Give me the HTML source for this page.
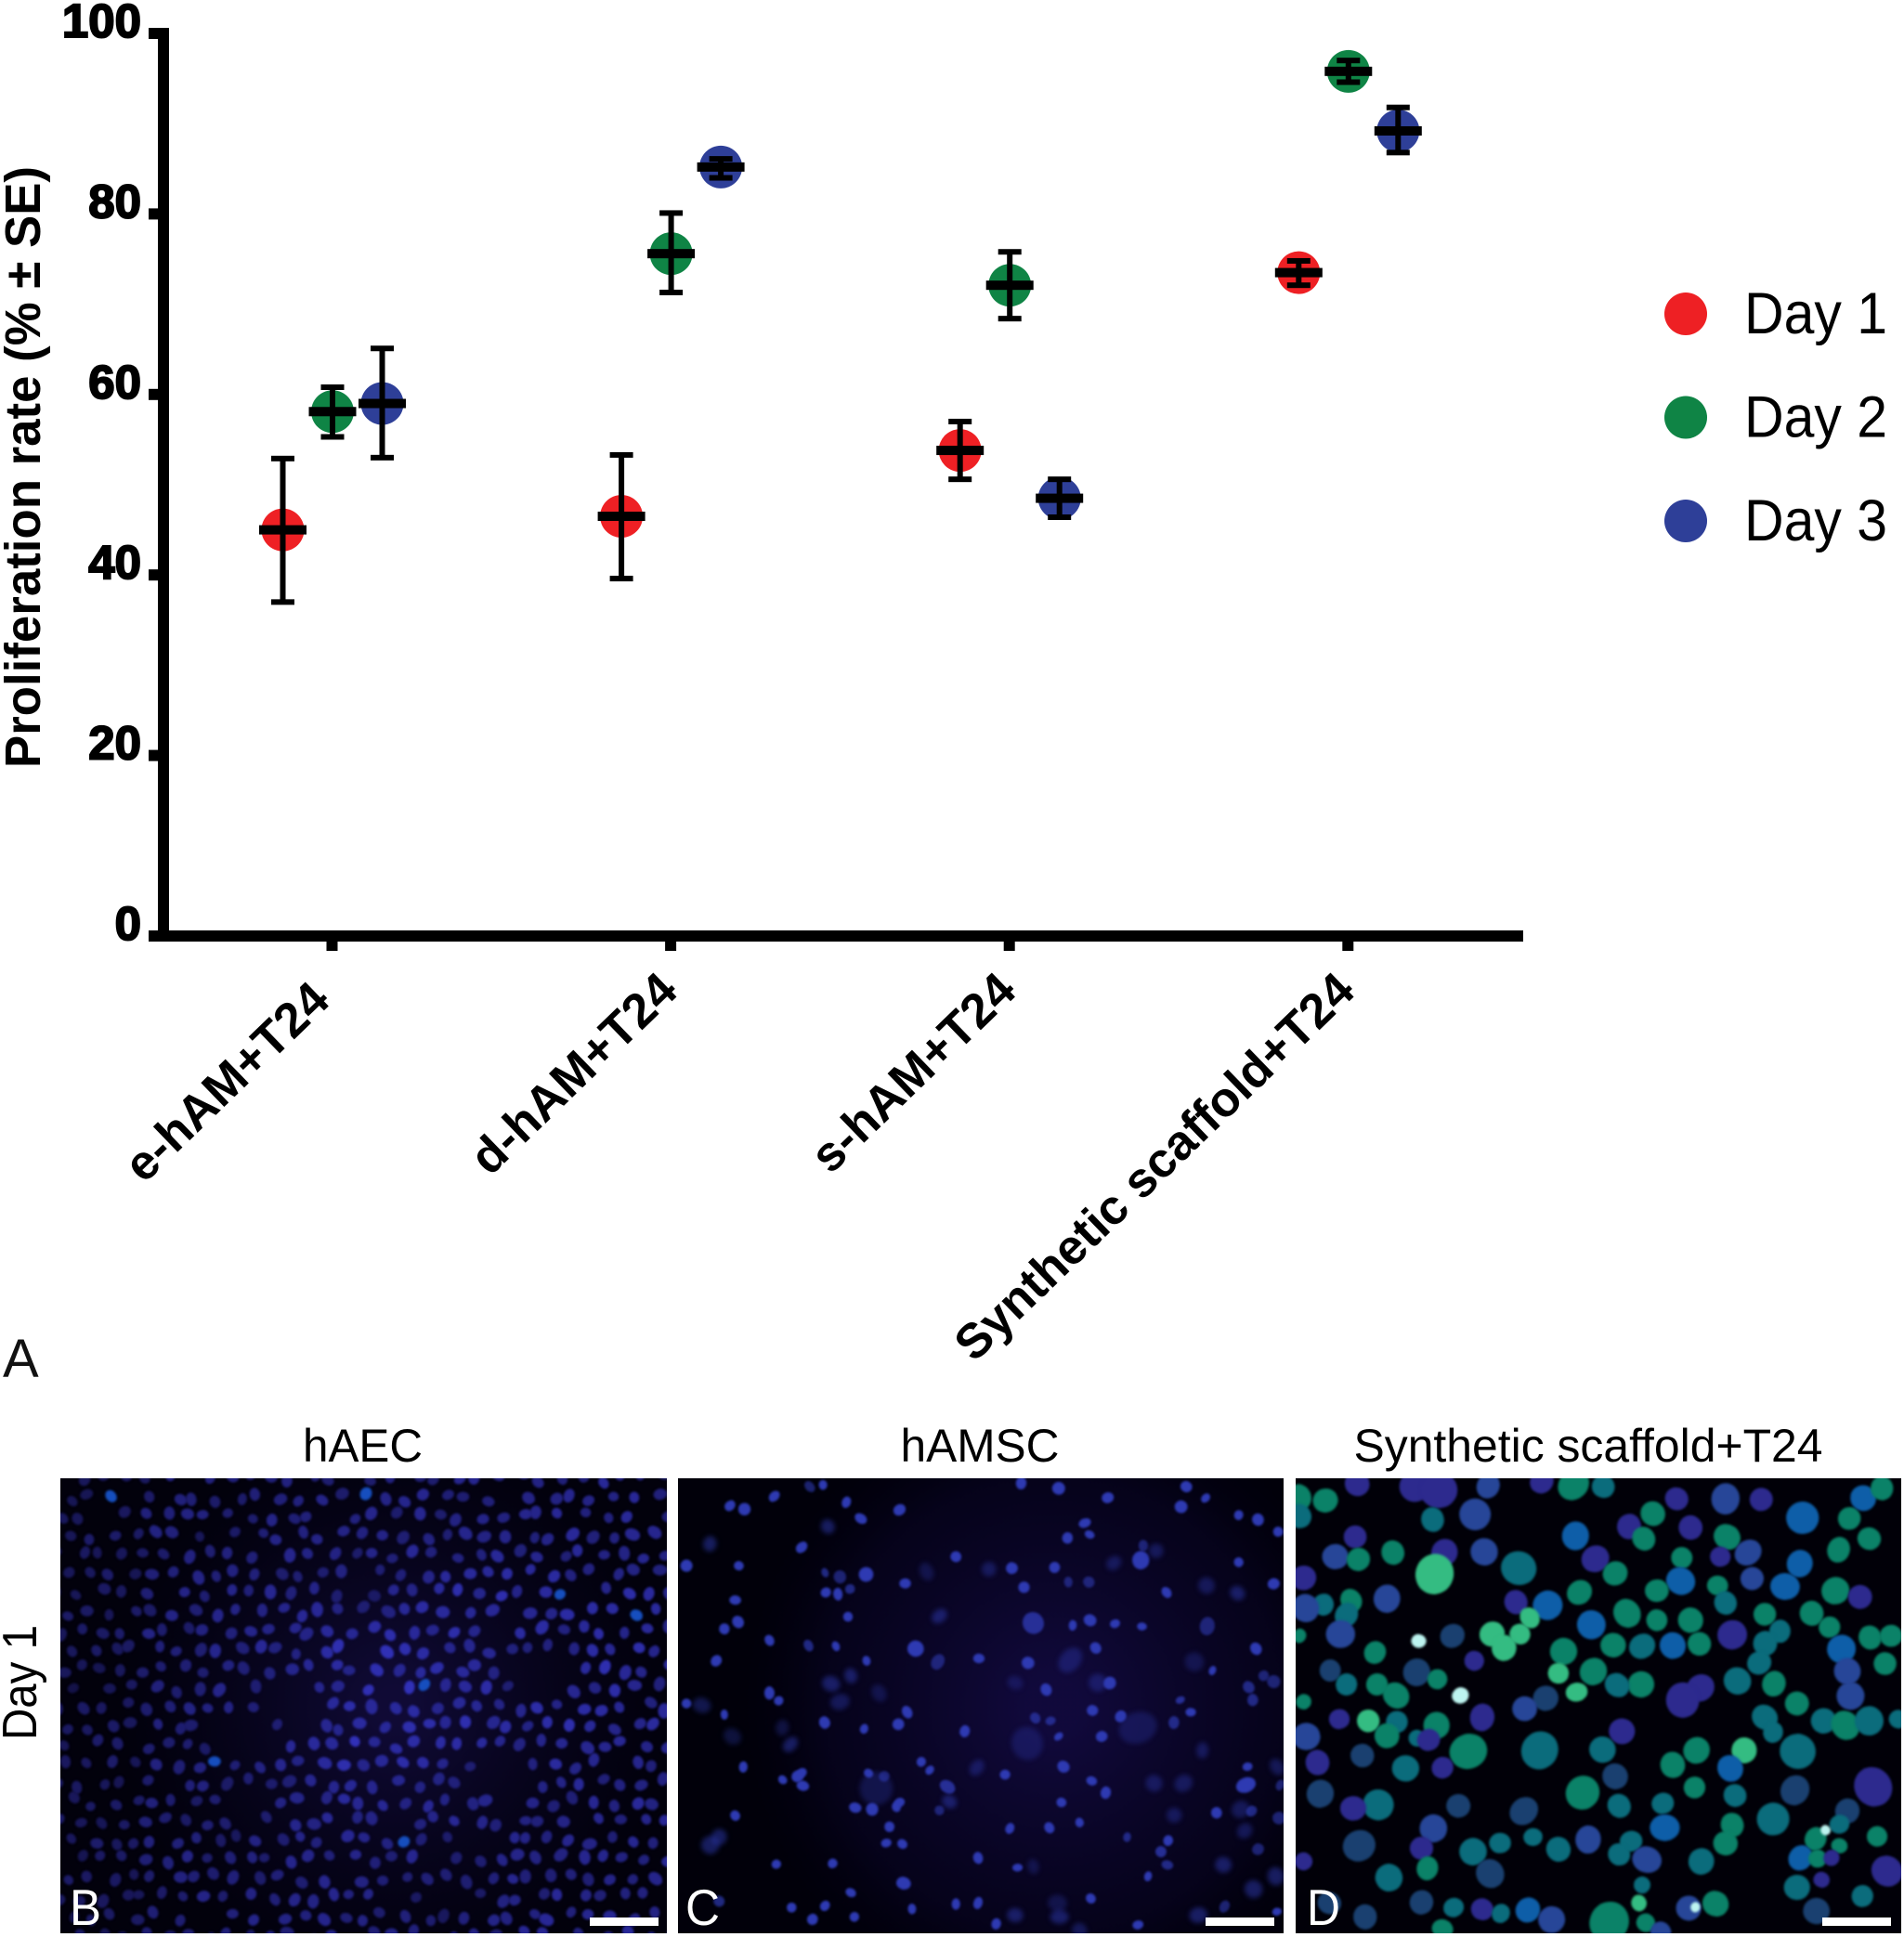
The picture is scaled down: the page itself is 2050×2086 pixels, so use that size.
<!DOCTYPE html>
<html lang="en">
<head>
<meta charset="utf-8">
<title>Proliferation rate figure</title>
<style>
html,body{margin:0;padding:0;background:#fff;}
#stage{position:relative;width:2050px;height:2086px;overflow:hidden;background:#fff;}
canvas{position:absolute;display:block;}
svg{position:absolute;left:0;top:0;}
text{font-family:"Liberation Sans",sans-serif;}
</style>
</head>
<body>
<div id="stage">
<canvas id="panelB" width="653" height="490" style="left:65px;top:1592px"></canvas>
<canvas id="panelC" width="652" height="490" style="left:730px;top:1592px"></canvas>
<canvas id="panelD" width="652" height="490" style="left:1395px;top:1592px"></canvas>
<svg id="chart" width="2050" height="2086" viewBox="0 0 2050 2086" xmlns="http://www.w3.org/2000/svg">
  <text x="43" y="503" text-anchor="middle" font-size="54" font-weight="700" textLength="648" lengthAdjust="spacingAndGlyphs" transform="rotate(-90 43 503)">Proliferation rate (% ± SE)</text>
  <text x="3" y="1483" font-size="58" fill="#111">A</text>
  <text x="390.5" y="1574" text-anchor="middle" font-size="50" textLength="129" lengthAdjust="spacingAndGlyphs">hAEC</text>
  <text x="1055" y="1574" text-anchor="middle" font-size="50" textLength="171" lengthAdjust="spacingAndGlyphs">hAMSC</text>
  <text x="1710" y="1574" text-anchor="middle" font-size="50" textLength="505" lengthAdjust="spacingAndGlyphs">Synthetic scaffold+T24</text>
  <text x="39" y="1812" text-anchor="middle" font-size="52" textLength="124" lengthAdjust="spacingAndGlyphs" transform="rotate(-90 39 1812)">Day 1</text>
  <text x="75" y="2073" font-size="55" textLength="34" lengthAdjust="spacingAndGlyphs" fill="#fff">B</text>
  <text x="738" y="2073" font-size="55" textLength="37" lengthAdjust="spacingAndGlyphs" fill="#fff">C</text>
  <text x="1407" y="2073" font-size="55" textLength="36" lengthAdjust="spacingAndGlyphs" fill="#fff">D</text>
  <rect x="635" y="2065" width="74" height="9" fill="#fff"/>
  <rect x="1298" y="2065" width="74" height="9" fill="#fff"/>
  <rect x="1962" y="2065" width="74" height="9" fill="#fff"/>
</svg>
</div>
<script>
/* ---------- chart data ---------- */
const categories = ["e-hAM+T24", "d-hAM+T24", "s-hAM+T24", "Synthetic scaffold+T24"];
const yTicks = [0, 20, 40, 60, 80, 100];
const seriesNames = ["Day 1", "Day 2", "Day 3"];
const seriesColors = ["#ee2024", "#0f8445", "#2e3f98"];
const day1Mean = [45, 46.5, 53.8, 73.5];
const day1Lower = [37, 39.6, 50.6, 72.1];
const day1Upper = [52.9, 53.3, 57, 74.8];
const day2Mean = [58.1, 75.6, 72.1, 95.8];
const day2Lower = [55.3, 71.3, 68.4, 94.6];
const day2Upper = [60.8, 80.1, 75.8, 97];
const day3Mean = [59, 85.2, 48.5, 89.2];
const day3Lower = [53, 84, 46.4, 86.8];
const day3Upper = [65.1, 86.1, 50.6, 91.8];

const svgNS = "http://www.w3.org/2000/svg";
const chart = document.getElementById("chart");
function yScale(v){ return 1008 - 9.72 * v; }
function xScale(i){ return 357.5 + 364.6 * i; }
function seriesOffset(s){ return (s - 1) * 53.5 + 0.5; }
function mk(tag, attrs, text){
  const el = document.createElementNS(svgNS, tag);
  for (const k in attrs) el.setAttribute(k, attrs[k]);
  if (text !== undefined) el.textContent = text;
  chart.appendChild(el);
  return el;
}

/* axes */
const yAxisLine = mk("rect", {x:170, y:yScale(100)-6, width:12, height:yScale(0)-yScale(100)+12, fill:"#000"});


const xAxisLine = mk("rect", {x:170, y:yScale(0)-6, width:1470, height:12, fill:"#000"});



yTicks.forEach(function(t){
  const tick = mk("rect", {x:160, y:yScale(t)-6, width:12, height:12, fill:"#000"});
  
  
  const lab = mk("text", {x:152, y:yScale(t)+4, "text-anchor":"end", "font-size":51, "font-weight":700, stroke:"#000", "stroke-width":2}, String(t));
  
  
});

categories.forEach(function(c, i){
  const tick = mk("rect", {x:xScale(i)-6, y:yScale(0)+6, width:12, height:10, fill:"#000"});
  
  
  const nudge = i === 0 ? 10 : 0;
  const ax = xScale(i) + 10 - nudge, ay = 1070 + nudge;
  const lab = mk("text", {x:ax, y:ay, "text-anchor":"end", "font-size":52.5, "font-weight":700, transform:"rotate(-44 " + ax + " " + ay + ")"}, c);
  
  
});

/* series */
const means = [day1Mean, day2Mean, day3Mean];
const lowers = [day1Lower, day2Lower, day3Lower];
const uppers = [day1Upper, day2Upper, day3Upper];
seriesNames.forEach(function(name, s){
  categories.forEach(function(c, i){
    const cx = xScale(i) + seriesOffset(s);
    const cy = yScale(means[s][i]);
    const yU = yScale(uppers[s][i]);
    const yL = yScale(lowers[s][i]);
    const dot = mk("circle", {cx:cx, cy:cy, r:23, fill:seriesColors[s]});
    
    
    const stem = mk("rect", {x:cx-3, y:yU, width:6, height:yL-yU, fill:"#000"});
    
    
    const capU = mk("rect", {x:cx-12.5, y:yU-3, width:25, height:6, fill:"#000"});
    
    
    const capL = mk("rect", {x:cx-12.5, y:yL-3, width:25, height:6, fill:"#000"});
    
    
    const meanBar = mk("rect", {x:cx-25.5, y:cy-5, width:51, height:10, fill:"#000"});
    
    
  });
});

/* legend */
seriesNames.forEach(function(name, s){
  const ly = 338 + 111.5 * s;
  const sw = mk("circle", {cx:1815, cy:ly, r:23, fill:seriesColors[s]});
  
  
  const lt = mk("text", {x:1878, y:ly+21, "font-size":63, textLength:154, lengthAdjust:"spacingAndGlyphs"}, name);
  
  
});

/* ---------- micrograph textures ---------- */
function hash(n){ const v = Math.sin(n * 127.1 + 311.7) * 43758.5453; return v - Math.floor(v); }
function gauss(x, y, cx, cy, s){ const dx = x-cx, dy = y-cy; return Math.exp(-(dx*dx+dy*dy)/(2*s*s)); }

/* Panel B: dense field */
(function(){
  const g = document.getElementById("panelB").getContext("2d");
  const W = 653, H = 490;
  g.fillStyle = "#02010c"; g.fillRect(0,0,W,H);
  const glow = g.createRadialGradient(W*.55,H*.5,20,W*.55,H*.5,300);
  glow.addColorStop(0,"rgba(30,20,95,.5)");
  glow.addColorStop(1,"rgba(15,8,60,0)");
  g.fillStyle = glow; g.fillRect(0,0,W,H);
  const holes = [[.39,.5,.05],[.79,.42,.05],[.30,.57,.045],[.5,.23,.03],[.72,.65,.04],[.64,.92,.04],[.3,.72,.045],[.26,.12,.025],[.05,.45,.03],[.67,.8,.025]];
  const bright = [[.53,.54,.14,.22],[.70,.29,.08,.18],[.91,.35,.08,.14],[.82,.5,.08,.12],[.45,.4,.12,.1]];
  g.filter = "blur(.8px)";
  let n = 0;
  for (let r = 0; r < 25; r++){
    for (let c = 0; c < 30; c++){
      n++;
      const x = (c + (r % 2 ? .5 : 0)) * 22.5 + (hash(n) - .5) * 12;
      const y = r * 20.5 + (hash(n + 900) - .5) * 10;
      const fx = x / W, fy = y / H;
      let hole = 0;
      holes.forEach(function(h){ hole = Math.max(hole, gauss(fx, fy, h[0], h[1], h[2])); });
      if (hole > .6 || hash(n + 1700) < .04) continue;
      let b = .52 + .14 * fx;
      if (fx < .14) b -= .12;
      bright.forEach(function(h){ b += h[3] * gauss(fx, fy, h[0], h[1], h[2]); });
      b *= (1 - hole * .4) * (.8 + hash(n + 2300) * .35);
      const rr = 5.2 + hash(n + 3100) * 1.6 + b * 1.1;
      const hot = hash(n + 4100) > .992;
      g.fillStyle = hot ? "rgb(22,78,190)" : "rgb(" + Math.round(44*b+8) + "," + Math.round(46*b+6) + "," + Math.round(170*b+26) + ")";
      g.beginPath();
      g.ellipse(x, y, rr * .86, rr * (.95 + hash(n + 5100) * .2), hash(n + 6100) * 3.14, 0, 6.29);
      g.fill();
    }
  }
  g.filter = "none";
})();

/* Panel C: sparse nuclei (x,y,alpha,radius) */
const cellsC = "262,298 383,265 350,270,.6 152,325 188,335 441,315 477,362 573,337 875,260 968,275 1090,302 1285,270 1333,303 1272,328 1415,352 1463,365 1513,400 395,385,.5 330,445 102,435,.5 44,498 174,498 713,472 1033,375 1045,408 990,418 1178,440,.6 1172,482,1,10 1210,455,.4 1415,488 1105,490,.4 852,505 795,508,.4 958,503 640,515,.3 388,518,.7 425,530,.6 490,523,1,8 390,575 420,580 450,565,.7 587,549 992,545,.6 1043,545,.6 882,560 1502,550 1236,575 1335,555,.4 1412,577,.5 165,597 445,645 672,643,.5 905,663,.8,12 1003,670 1046,655 1108,665 1175,673 1337,672,.6,10 138,680 172,660 250,713 347,728,.7 415,730 613,737,1,9 668,775,.6,9 1060,735 1458,737 118,772 491,772 770,765 892,778 997,770,.4,10 1305,775,.3 1350,800 452,815,.5 403,838,.5 860,835,.3 1065,835,.4 1095,836 937,855 1477,815,.6 1502,832,.6 1440,848,.7 250,865 273,887 44,895 82,900,.4 425,890,.4 522,865,.3 1270,885,.8 1450,885,.7 1052,915 1296,920 1122,932 592,920 570,955 138,927 387,950 910,937,.7 948,945,.7 1254,950,.7 485,968 735,975 968,990 1075,990 1165,965,.3,14 282,965,.3 890,1010,.3,12 158,990,.3 302,1013,.5 1325,1030,.4 627,1063 648,1087 980,1077 1437,1077 1510,1078,.4 185,1078 765,1080,.4 835,1100 330,1095 320,1105 283,1115 333,1132 496,1096 535,1105,.6 1050,1118 692,1135,.8,9 515,1140,.3,12 1085,1152 1205,1125,.4 1278,1125,.4 1433,1130,1,11 1518,1130,.6 975,1180 463,1195 505,1200 573,1180 565,1193 697,1178,.5 672,1203,.6 1447,1205,.7 1420,1200,.4 165,1218 1360,1210 1255,1217,.4 1515,1225,.6 1020,1238 945,1253 847,1255 548,1250 1430,1262,.4 1240,1290 125,1280,.5 1138,1280,.7 103,1303,.5 540,1297 580,1300 1463,1315,.6 1222,1322,.8 267,1358 407,1356 768,1340 866,1368 1238,1360,.7 1377,1360,.5 905,1365,.3 1190,1393 583,1413,1,8 1507,1393,.5 452,1440 1452,1430,.5 125,1465,.7 1048,1457 713,1473 768,1470 388,1478 305,1483 965,1470,.3 604,1487 1380,1480,.6 357,1517 461,1510 1510,1495 1315,1505,.5 860,1505,.5 970,1510,.5 813,1530 1165,1533 1020,1550,.4";
(function(){
  const g = document.getElementById("panelC").getContext("2d");
  const W = 652, H = 490;
  g.fillStyle = "#01000a"; g.fillRect(0,0,W,H);
  const glow = g.createRadialGradient(W*.62,H*.5,30,W*.62,H*.5,340);
  glow.addColorStop(0,"rgba(30,17,100,.55)");
  glow.addColorStop(.7,"rgba(16,9,62,.32)");
  glow.addColorStop(1,"rgba(5,2,30,0)");
  g.fillStyle = glow; g.fillRect(0,0,W,H);
  cellsC.split(" ").forEach(function(e, i){
    const p = e.split(",").map(Number);
    const a = p[2] === undefined ? 1 : p[2];
    let r = p[3] || 5.2 + hash(i) * 2;
    if (a < .6) r *= 1.5;
    g.filter = a < .6 ? "blur(2.5px)" : "blur(.8px)";
    g.fillStyle = "rgba(46,58,178," + a + ")";
    g.beginPath();
    g.ellipse((p[0]-23)/2.306, (p[1]-246)/2.676, r, r * (.72 + hash(i+50) * .3), hash(i+90) * 3.14, 0, 6.29);
    g.fill();
  });
  g.filter = "none";
})();

/* Panel D: nuclei (x,y,colour,radius) */
const cellsD = "190,262,v 335,270,v,16 395,280,v,18 520,268,b 655,255,v 735,265,g,15 810,270,t 110,310,g,12 45,300,g 45,355,t 380,365,t,12 487,350,b,16 185,415,v,11 740,412,c,14 875,385,v,12 935,348,g,12 1030,388,v,12 995,305,v,12 1118,305,b,15 1208,307,v,12 1312,360,c,16 1430,362,g,12 1465,303,c,13 1512,275,g,11 1480,420,g,12 1122,415,g,13 912,420,g,12 135,472,b,13 193,480,g,11 280,460,g,12 410,460,v,13 510,458,b,14 385,522,l,19 597,505,t,17 55,533,v,12 790,478,v,13 840,520,g,12 1008,475,g,11 1105,472,v,10 1175,460,b,13 1305,492,c,13 1403,452,g,12 1185,535,b,12 1005,542,c,14 1268,558,c,14 945,570,g,12 1098,555,g,10 750,575,g,12 1395,570,g,13 1457,588,v,12 265,593,b,13 175,598,g,11 105,610,t,10 60,620,b,14 590,603,v,12 670,612,c,14 1118,605,t,11 870,635,g,14 945,655,g,11 1030,655,g,12 1217,638,g,11 1335,635,g,12 163,640,t,12 625,648,l,10 780,668,c,14 1380,675,g,11 530,695,l,12 600,695,l,10 148,695,b,14 345,715,w,7 430,700,d,12 1135,697,v,14 1255,687,t,11 45,700,g,7 1482,705,g,12 1535,700,g,11 1218,722,t,12 835,727,g,12 908,730,t,13 985,728,c,13 1052,723,g,12 710,745,g,14 560,735,l,12 235,748,g,11 1410,738,c,14 1203,778,t,12 1520,780,g,11 485,772,v,10 122,800,d,11 340,805,d,13 1425,802,b,14 785,803,g,13 697,808,l,11 392,825,g,10 240,840,g,11 163,840,t,11 1240,838,g,12 1148,830,t,13 905,840,g,13 845,842,t,12 743,862,l,10 1055,850,v,14 1010,885,v,17 288,872,g,13 450,872,w,8 1433,873,b,14 1298,895,g,12 665,880,d,13 55,890,g,8 612,910,b,12 505,935,v,13 145,940,v,10 1217,935,t,13 1365,945,t,13 1420,958,g,14 1480,945,t,15 1553,940,t,9 218,945,l,11 290,948,t,11 390,958,g,13 1238,978,t,10 857,975,v,13 265,988,g,13 340,995,t,8 370,1000,v,11 62,990,b,14 470,1033,g,18 650,1030,t,19 808,1028,t,14 1165,1030,l,13 1300,1033,t,17 203,1045,d,12 1045,1030,g,13 985,1072,g,13 1130,1082,c,13 312,1082,t,14 405,1080,v,11 90,1065,v,12 840,1105,d,13 1490,1135,v,19 758,1152,g,17 1040,1137,g,11 1293,1145,d,15 1142,1160,t,11 97,1155,d,14 243,1187,t,16 180,1197,v,12 445,1190,d,12 610,1205,d,14 850,1190,t,12 960,1183,t,11 1238,1228,t,17 1425,1205,d,12 382,1255,b,14 965,1253,c,14 1135,1245,g,12 1405,1243,t,10 1118,1298,g,12 1345,1285,g,11 1500,1278,g,10 1370,1260,w,5 195,1305,d,16 633,1280,t,9 550,1297,t,10 772,1287,b,13 880,1292,t,11 697,1315,t,12 482,1322,t,14 352,1312,v,11 850,1330,t,11 1405,1305,g,8 920,1345,b,14 1057,1350,t,13 1307,1340,c,12 1350,1342,g,9 1385,1340,v,8 525,1385,d,14 367,1370,g,11 270,1397,t,13 1525,1378,v,15 55,1350,v,9 1298,1425,t,13 1360,1403,v,8 908,1418,t,8 900,1470,l,8 1463,1450,t,11 352,1468,d,12 433,1483,t,10 505,1488,v,11 620,1490,c,12 552,1500,t,9 680,1518,b,13 1025,1485,b,13 1042,1482,w,5 1093,1472,g,13 120,1470,d,11 1347,1493,d,13 210,1510,d,12 825,1525,g,20 917,1527,g,9 405,1545,g,10 955,1555,b,11";
const cellColorsD = {g:"#0b8268", t:"#0b6c7c", b:"#274698", v:"#2d2a8e", c:"#0e5ea8", l:"#34bc82", w:"#bdf4f0", d:"#1a4070"};
(function(){
  const g = document.getElementById("panelD").getContext("2d");
  const W = 652, H = 490;
  g.fillStyle = "#010008"; g.fillRect(0,0,W,H);
  g.filter = "blur(1px)";
  cellsD.split(" ").forEach(function(e, i){
    const p = e.split(",");
    const r = (Number(p[3]) || 12) * 1.12;
    const x = (Number(p[0])-35)/2.34, y = (Number(p[1])-246)/2.676;
    g.fillStyle = cellColorsD[p[2]];
    g.beginPath();
    g.ellipse(x, y, r * (.9 + hash(i+11)*.12), r * (.92 + hash(i+31)*.14), hash(i+71)*3.14, 0, 6.29);
    g.fill();
  });
  g.filter = "none";
})();
</script>
</body>
</html>
